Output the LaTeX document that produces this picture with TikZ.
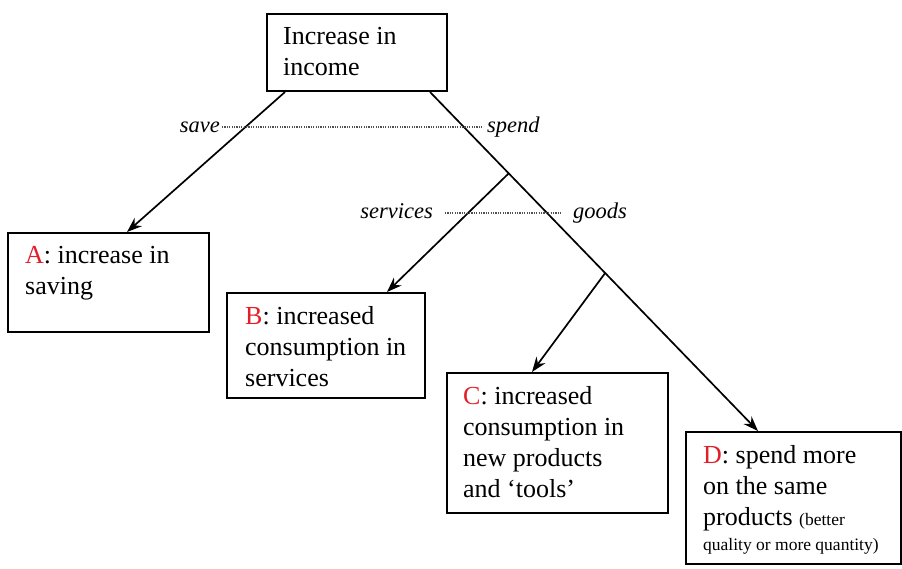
\documentclass[tikz,border=0pt]{standalone}
\usepackage{fontspec}
\setmainfont{Liberation Serif}
\usetikzlibrary{arrows.meta,calc}
\definecolor{letterred}{RGB}{226,30,40}
\definecolor{dotgray}{RGB}{80,80,80}
\begin{document}
\begin{tikzpicture}[x=1pt,y=-1pt,
  box/.style={draw=black,line width=2pt,anchor=north west,inner sep=0pt},
  boxtext/.style={anchor=north west,inner sep=0pt,align=left,font=\fontsize{26}{31}\selectfont},
  lab/.style={inner sep=0pt,font=\fontsize{22.5}{26}\selectfont\itshape},
  conn/.style={line width=1.7pt,-{Stealth[length=15pt,width=11pt]}},
  dots/.style={dotgray,line width=1.3pt,dash pattern=on 1.2pt off 1.2pt}]
\useasboundingbox (0,0) rectangle (902,568);
% boxes
\node[box,minimum width=180,minimum height=77] (top) at (266,13) {};
\node[box,minimum width=201,minimum height=99] (A) at (7,232) {};
\node[box,minimum width=198,minimum height=105] (B) at (226,292) {};
\node[box,minimum width=221,minimum height=140] (C) at (446,372) {};
\node[box,minimum width=215,minimum height=132] (D) at (685,431) {};
% texts
\node[boxtext] (topt) at ($(top.north west)+(17,14)$) {Increase in\\income};
\node[boxtext] (At) at ($(A.north west)+(18,14)$) {\textcolor{letterred}{A}: increase in\\saving};
\node[boxtext] (Bt) at ($(B.north west)+(19,14)$) {\textcolor{letterred}{B}: increased\\consumption in\\services};
\node[boxtext] (Ct) at ($(C.north west)+(17,14)$) {\textcolor{letterred}{C}: increased\\consumption in\\new products\\and `tools'};
\node[boxtext] (Dt) at ($(D.north west)+(18,14)$) {\textcolor{letterred}{D}: spend more\\on the same\\products {\fontsize{17.5}{21}\selectfont (better}\\[-6pt]{\fontsize{17.5}{21}\selectfont quality or more quantity)}};
% connectors
\coordinate (L0) at ($(top.south west)+(19,0)$);
\coordinate (R0) at ($(top.south east)+(-18,0)$);
\coordinate (Atip) at ($(A.north west)+(120,0)$);
\coordinate (Btip) at ($(B.north west)+(161,0)$);
\coordinate (Ctip) at ($(C.north west)+(86,0)$);
\coordinate (Dtip) at ($(D.north west)+(73,0)$);
\path (R0) -- (Dtip) coordinate[pos=0.240] (P1) coordinate[pos=0.534] (P2);
\draw[conn] (L0) -- (Atip);
\draw[conn] (R0) -- (Dtip);
\draw[conn] (P1) -- (Btip);
\draw[conn] (P2) -- (Ctip);
% labels and dotted lines
\node[lab,anchor=base east] (save) at (220,132) {save};
\node[lab,anchor=base west] (spend) at (487,132) {spend};
\draw[dots] ($(save.base east)+(2,-5)$) -- ($(spend.base west)+(-5,-5)$);
\node[lab,anchor=base east] (services) at (433,218) {services};
\node[lab,anchor=base west] (goods) at (573,218) {goods};
\draw[dots] ($(services.base east)+(12,-5)$) -- ($(goods.base west)+(-11,-5)$);
\end{tikzpicture}
\end{document}
